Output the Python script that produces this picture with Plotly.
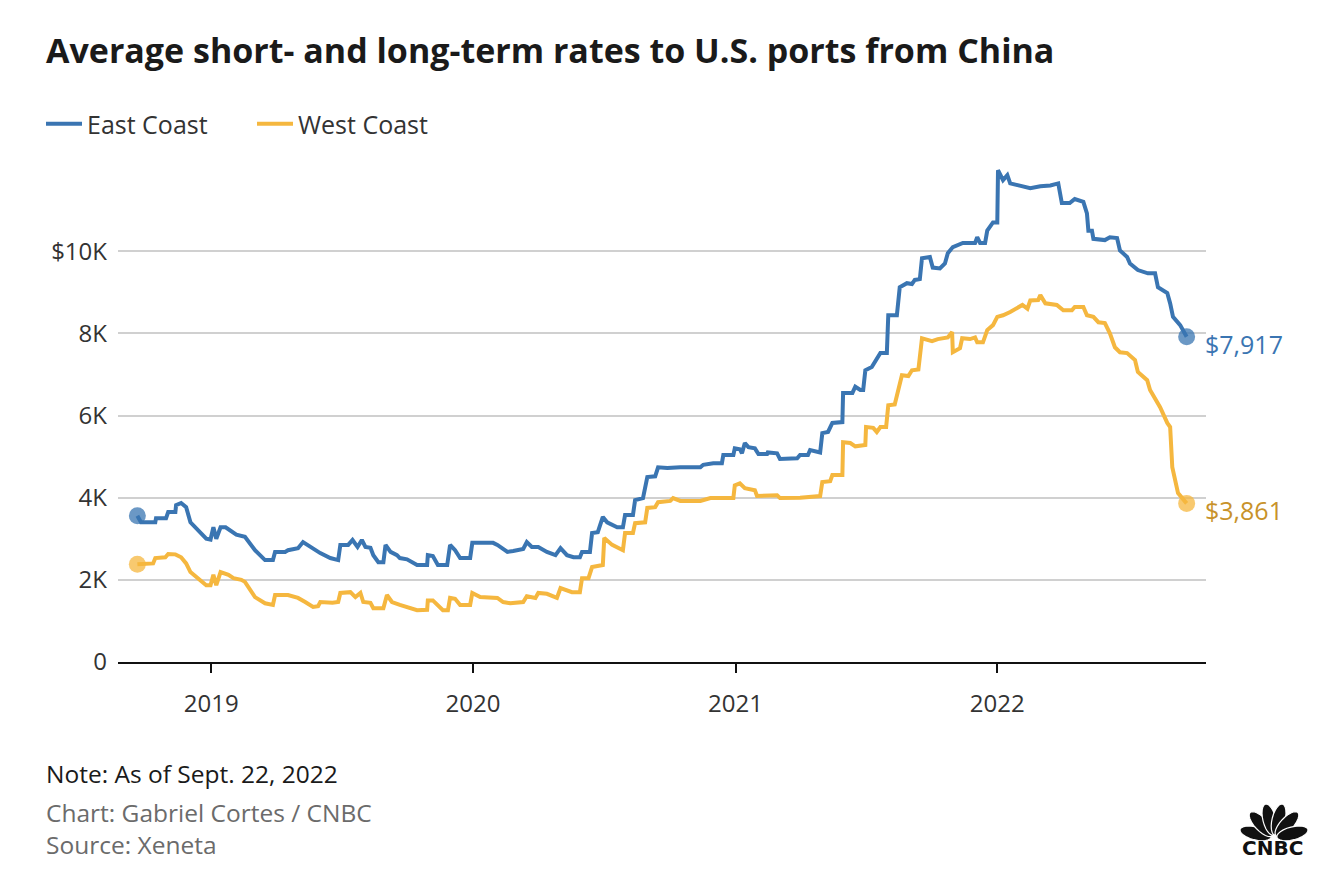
import math

import plotly.graph_objects as go

# East Coast rate (USD per FEU)
east_dates = [
    "2018-09-20", "2018-09-25", "2018-10-15", "2018-10-16", "2018-10-30", "2018-11-02",
    "2018-11-12", "2018-11-13", "2018-11-20", "2018-11-27", "2018-12-03", "2018-12-14",
    "2018-12-25", "2018-12-31", "2019-01-04", "2019-01-08", "2019-01-14", "2019-01-21",
    "2019-02-01", "2019-02-05", "2019-02-17", "2019-03-03", "2019-03-17", "2019-03-28",
    "2019-03-31", "2019-04-14", "2019-04-18", "2019-05-02", "2019-05-09", "2019-05-19",
    "2019-06-02", "2019-06-16", "2019-06-27", "2019-06-30", "2019-07-11", "2019-07-17",
    "2019-07-24", "2019-07-30", "2019-08-04", "2019-08-11", "2019-08-15", "2019-08-22",
    "2019-08-29", "2019-09-01", "2019-09-08", "2019-09-17", "2019-09-21", "2019-10-01",
    "2019-10-15", "2019-10-29", "2019-10-30", "2019-11-06", "2019-11-13", "2019-11-26",
    "2019-11-30", "2019-12-07", "2019-12-14", "2019-12-28", "2019-12-31", "2020-01-11",
    "2020-01-29", "2020-02-04", "2020-02-08", "2020-02-18", "2020-02-26", "2020-03-11",
    "2020-03-16", "2020-03-23", "2020-04-01", "2020-04-13", "2020-04-25", "2020-05-02",
    "2020-05-11", "2020-05-20", "2020-05-29", "2020-06-01", "2020-06-12", "2020-06-15",
    "2020-06-23", "2020-06-30", "2020-07-06", "2020-07-20", "2020-07-28", "2020-07-31",
    "2020-08-11", "2020-08-14", "2020-08-25", "2020-08-31", "2020-09-11", "2020-09-15",
    "2020-09-28", "2020-10-16", "2020-11-13", "2020-11-17", "2020-12-01", "2020-12-13",
    "2020-12-15", "2020-12-29", "2020-12-31", "2021-01-07", "2021-01-10", "2021-01-14",
    "2021-01-19", "2021-01-28", "2021-02-02", "2021-02-14", "2021-02-15", "2021-02-28",
    "2021-03-04", "2021-03-14", "2021-03-28", "2021-04-01", "2021-04-12", "2021-04-15",
    "2021-04-29", "2021-05-02", "2021-05-10", "2021-05-16", "2021-05-30", "2021-05-31",
    "2021-06-13", "2021-06-17", "2021-06-24", "2021-06-28", "2021-07-01", "2021-07-10",
    "2021-07-17", "2021-07-22", "2021-07-31", "2021-08-02", "2021-08-14", "2021-08-18",
    "2021-08-28", "2021-09-04", "2021-09-08", "2021-09-15", "2021-09-18", "2021-09-29",
    "2021-10-03", "2021-10-13", "2021-10-20", "2021-10-24", "2021-10-31", "2021-11-14",
    "2021-12-01", "2021-12-04", "2021-12-08", "2021-12-15", "2021-12-18", "2021-12-26",
    "2022-01-01", "2022-01-02", "2022-01-09", "2022-01-15", "2022-01-19", "2022-02-02",
    "2022-02-16", "2022-03-02", "2022-03-16", "2022-03-27", "2022-04-01", "2022-04-12",
    "2022-04-19", "2022-05-01", "2022-05-06", "2022-05-08", "2022-05-13", "2022-05-15",
    "2022-05-31", "2022-06-07", "2022-06-17", "2022-06-21", "2022-07-01", "2022-07-05",
    "2022-07-16", "2022-07-30", "2022-08-09", "2022-08-13", "2022-08-26", "2022-08-30",
    "2022-09-03", "2022-09-13", "2022-09-22",
]
east_rates = [
    3560, 3400, 3400, 3500, 3500, 3650,
    3650, 3820, 3870, 3770, 3400, 3200,
    3000, 2980, 3280, 3000, 3280, 3280,
    3140, 3100, 3050, 2720, 2480, 2480,
    2680, 2680, 2720, 2770, 2920, 2800,
    2650, 2530, 2480, 2850, 2850, 2970,
    2800, 2970, 2800, 2780, 2600, 2430,
    2430, 2850, 2680, 2600, 2530, 2500,
    2360, 2360, 2600, 2580, 2360, 2360,
    2850, 2720, 2530, 2530, 2900, 2900,
    2900, 2850, 2800, 2680, 2700, 2750,
    2920, 2800, 2800, 2680, 2600, 2770,
    2600, 2550, 2550, 2680, 2680, 3140,
    3160, 3530, 3400, 3280, 3280, 3580,
    3580, 3940, 3990, 4500, 4520, 4740,
    4720, 4740, 4740, 4800, 4840, 4840,
    5040, 5040, 5200, 5180, 5080, 5330,
    5230, 5200, 5060, 5060, 5100, 5080,
    4940, 4940, 4960, 5040, 5040, 5160,
    5100, 5570, 5600, 5820, 5840, 6550,
    6550, 6700, 6620, 6620, 7100, 7180,
    7400, 7520, 7520, 8440, 8440, 9120,
    9220, 9200, 9300, 9320, 9830, 9860,
    9600, 9580, 9700, 9950, 10100, 10200,
    10200, 10340, 10200, 10200, 10500, 10700,
    10700, 11970, 11730, 11850, 11650, 11600,
    11530, 11580, 11600, 11650, 11170, 11170,
    11270, 11200, 10920, 10500, 10500, 10300,
    10270, 10340, 10320, 10020, 9860, 9700,
    9540, 9460, 9460, 9120, 8980, 8730,
    8400, 8200, 7917,
]

# West Coast rate (USD per FEU)
west_dates = [
    "2018-09-20", "2018-09-28", "2018-10-12", "2018-10-15", "2018-10-29", "2018-11-02",
    "2018-11-12", "2018-11-20", "2018-11-27", "2018-12-03", "2018-12-14", "2018-12-25",
    "2018-12-31", "2019-01-04", "2019-01-08", "2019-01-14", "2019-01-25", "2019-02-01",
    "2019-02-12", "2019-02-17", "2019-03-03", "2019-03-17", "2019-03-28", "2019-03-31",
    "2019-04-18", "2019-05-02", "2019-05-12", "2019-05-23", "2019-05-30", "2019-06-02",
    "2019-06-19", "2019-06-27", "2019-06-30", "2019-07-14", "2019-07-21", "2019-07-28",
    "2019-08-01", "2019-08-11", "2019-08-15", "2019-08-29", "2019-09-03", "2019-09-10",
    "2019-09-21", "2019-10-05", "2019-10-15", "2019-10-29", "2019-10-30", "2019-11-06",
    "2019-11-12", "2019-11-20", "2019-11-27", "2019-11-30", "2019-12-07", "2019-12-14",
    "2019-12-28", "2019-12-31", "2020-01-11", "2020-02-04", "2020-02-12", "2020-02-22",
    "2020-03-11", "2020-03-16", "2020-03-28", "2020-04-01", "2020-04-13", "2020-04-27",
    "2020-05-02", "2020-05-18", "2020-05-29", "2020-06-01", "2020-06-10", "2020-06-15",
    "2020-06-30", "2020-07-02", "2020-07-13", "2020-07-28", "2020-07-31", "2020-08-11",
    "2020-08-14", "2020-08-28", "2020-08-31", "2020-09-11", "2020-09-15", "2020-10-02",
    "2020-10-06", "2020-10-16", "2020-11-13", "2020-11-27", "2020-12-29", "2020-12-31",
    "2021-01-07", "2021-01-14", "2021-01-28", "2021-01-31", "2021-02-28", "2021-03-04",
    "2021-04-01", "2021-04-29", "2021-05-02", "2021-05-13", "2021-05-16", "2021-05-30",
    "2021-05-31", "2021-06-10", "2021-06-17", "2021-07-01", "2021-07-02", "2021-07-12",
    "2021-07-17", "2021-07-22", "2021-07-30", "2021-08-02", "2021-08-11", "2021-08-18",
    "2021-08-21", "2021-08-30", "2021-09-04", "2021-09-13", "2021-09-18", "2021-10-02",
    "2021-10-10", "2021-10-24", "2021-10-30", "2021-10-31", "2021-11-10", "2021-11-13",
    "2021-11-24", "2021-12-01", "2021-12-04", "2021-12-12", "2021-12-18", "2021-12-26",
    "2022-01-01", "2022-01-09", "2022-01-19", "2022-02-05", "2022-02-12", "2022-02-16",
    "2022-02-27", "2022-03-02", "2022-03-09", "2022-03-25", "2022-04-03", "2022-04-15",
    "2022-04-19", "2022-05-01", "2022-05-06", "2022-05-15", "2022-05-22", "2022-05-31",
    "2022-06-07", "2022-06-14", "2022-06-21", "2022-07-01", "2022-07-12", "2022-07-16",
    "2022-07-29", "2022-08-02", "2022-08-09", "2022-08-16", "2022-08-26", "2022-08-30",
    "2022-09-02", "2022-09-06", "2022-09-10", "2022-09-22",
]
west_rates = [
    2380, 2380, 2400, 2530, 2550, 2630,
    2620, 2550, 2400, 2190, 2040, 1870,
    1870, 2120, 1870, 2190, 2120, 2040,
    2000, 1950, 1580, 1430, 1390, 1630,
    1630, 1560, 1460, 1340, 1360, 1460,
    1440, 1460, 1680, 1700, 1580, 1680,
    1460, 1440, 1310, 1310, 1630, 1460,
    1390, 1310, 1260, 1270, 1500, 1500,
    1390, 1260, 1260, 1560, 1540, 1390,
    1390, 1680, 1580, 1560, 1460, 1430,
    1460, 1600, 1560, 1680, 1660, 1560,
    1800, 1700, 1700, 2040, 2040, 2310,
    2360, 3020, 2850, 2720, 3140, 3140,
    3380, 3400, 3750, 3770, 3890, 3920,
    3990, 3920, 3920, 3990, 3990, 4300,
    4350, 4230, 4180, 4040, 4060, 3990,
    4000, 4040, 4380, 4400, 4550, 4550,
    5350, 5330, 5250, 5280, 5720, 5700,
    5600, 5720, 5720, 6250, 6270, 6790,
    6980, 6960, 7100, 7120, 7880, 7810,
    7860, 7900, 8030, 7540, 7640, 7880,
    7860, 7900, 7780, 7780, 8080, 8200,
    8400, 8440, 8520, 8690, 8600, 8800,
    8810, 8930, 8730, 8690, 8560, 8560,
    8640, 8640, 8440, 8400, 8270, 8250,
    8000, 7660, 7540, 7520, 7350, 7060,
    6860, 6620, 6420, 6200, 5820, 5720,
    4740, 4430, 4110, 3861,
]

year_ticks = ["2019-01-01", "2020-01-01", "2021-01-01", "2022-01-01"]
year_labels = ["2019", "2020", "2021", "2022"]
y_ticks = [0, 2000, 4000, 6000, 8000, 10000]
y_labels = ["0", "2K", "4K", "6K", "8K", "$10K"]

BLUE = "#3a75b2"
GOLD = "#f5b73f"
GOLD_TEXT = "#c8922a"
FONT = "'Open Sans', 'Noto Sans', sans-serif"

# page has an 8px body margin; layout numbers below are screen pixels
OFF = 8
W, H = 1342 - OFF, 884 - OFF
L, R, T, B = 118 - OFF, 1206 - OFF, 169 - OFF, 662 - OFF


def px_x(x):
    return (x - OFF - L) / (R - L)


def px_y(y):
    return (B - (y - OFF)) / (B - T)


fig = go.Figure()

fig.add_trace(go.Scatter(
    x=east_dates, y=east_rates, name="East Coast", mode="lines",
    line=dict(color=BLUE, width=4), hoverinfo="x+y",
))
fig.add_trace(go.Scatter(
    x=west_dates, y=west_rates, name="West Coast", mode="lines",
    line=dict(color=GOLD, width=4), hoverinfo="x+y",
))

# start / end dots
for dates, vals, col in [(east_dates, east_rates, BLUE), (west_dates, west_rates, GOLD)]:
    fig.add_trace(go.Scatter(
        x=[dates[0], dates[-1]], y=[vals[0], vals[-1]], mode="markers",
        marker=dict(color=col, size=17, opacity=0.75),
        showlegend=False, hoverinfo="skip",
    ))

# end labels
fig.add_annotation(x=east_dates[-1], y=east_rates[-1], text=f"${east_rates[-1]:,}",
                   showarrow=False, xanchor="left", xshift=16, yshift=-7,
                   font=dict(size=25, color=BLUE, family=FONT))
fig.add_annotation(x=west_dates[-1], y=west_rates[-1], text=f"${west_rates[-1]:,}",
                   showarrow=False, xanchor="left", xshift=16, yshift=-7,
                   font=dict(size=25, color=GOLD_TEXT, family=FONT))

# title and footer
fig.add_annotation(xref="paper", yref="paper", x=px_x(44), y=px_y(50),
                   text="<b>Average short- and long-term rates to U.S. ports from China</b>",
                   showarrow=False, xanchor="left", yanchor="middle",
                   font=dict(size=34, color="#1a1a1a", family=FONT))
footer = [
    ("Note: As of Sept. 22, 2022", 773, "#1a1a1a"),
    ("Chart: Gabriel Cortes / CNBC", 812, "#6b6b6b"),
    ("Source: Xeneta", 844, "#6b6b6b"),
]
for txt, y, col in footer:
    fig.add_annotation(xref="paper", yref="paper", x=px_x(44), y=px_y(y), text=txt,
                       showarrow=False, xanchor="left", yanchor="middle",
                       font=dict(size=24.5, color=col, family=FONT))

# CNBC logo: peacock feathers and wordmark
cx, cy = 1274, 838
for ang in [166, 133, 104, 76, 47, 14]:
    a = math.radians(ang)
    pts = []
    for k in range(24):
        t = 2 * math.pi * k / 24
        u = 19 + 16 * math.cos(t)
        v = 6.5 * math.sin(t)
        px = u * math.cos(a) - v * math.sin(a)
        py = u * math.sin(a) + v * math.cos(a)
        pts.append(f"{px:.1f},{py:.1f}")
    fig.add_shape(type="path", xref="paper", yref="paper",
                  xsizemode="pixel", ysizemode="pixel",
                  xanchor=px_x(cx), yanchor=px_y(cy),
                  path="M" + " L".join(pts) + " Z",
                  fillcolor="#111111", line=dict(width=1.2, color="white"))
fig.add_annotation(xref="paper", yref="paper", x=px_x(1272), y=px_y(848),
                   text="<b>CNBC</b>", showarrow=False, xanchor="center", yanchor="middle",
                   font=dict(size=20, color="#111111", family="'DejaVu Sans', sans-serif"))

fig.update_layout(
    width=W, height=H,
    margin=dict(l=L, r=W - R, t=T, b=H - B, autoexpand=False),
    paper_bgcolor="white", plot_bgcolor="white",
    font=dict(family=FONT, color="#333333"),
    showlegend=True,
    legend=dict(orientation="h", x=px_x(41), y=px_y(124), xanchor="left", yanchor="middle",
                font=dict(size=25, color="#333333", family=FONT),
                entrywidth=160, itemwidth=36, bgcolor="rgba(0,0,0,0)"),
)
fig.update_xaxes(
    range=["2018-08-24", "2022-10-19"],
    tickvals=year_ticks, ticktext=year_labels,
    showgrid=False, showline=True, linecolor="#111111", linewidth=2,
    ticks="outside", ticklen=9, tickwidth=2, tickcolor="#111111",
    tickfont=dict(size=24, color="#333333"), ticklabelstandoff=10,
    zeroline=False,
)
fig.update_yaxes(
    range=[0, 12000],
    tickvals=y_ticks, ticktext=y_labels,
    showgrid=True, gridcolor="#d0d0d0", gridwidth=1.5,
    showline=False, zeroline=False, ticks="",
    tickfont=dict(size=24, color="#333333"), ticklabelstandoff=10,
)

fig.write_html("out.html")
